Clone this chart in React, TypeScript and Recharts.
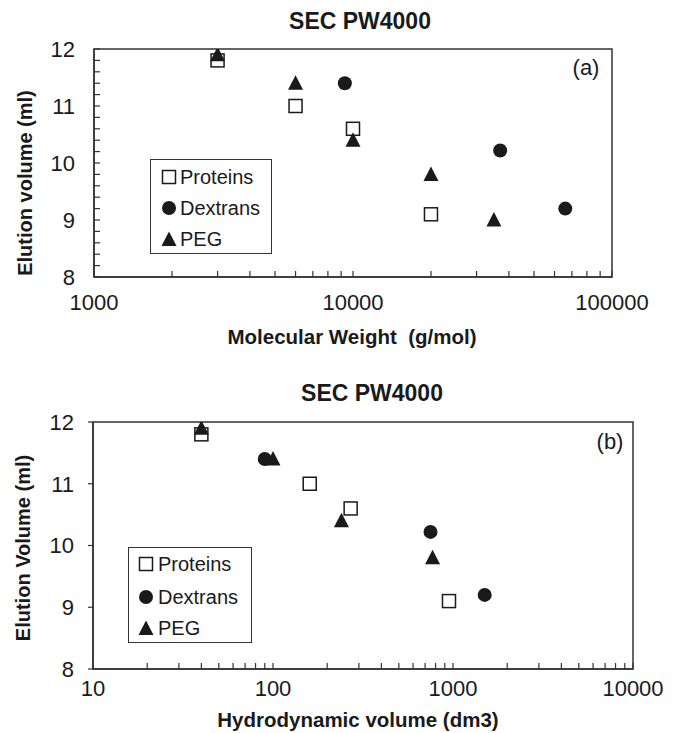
import React from "react";
import { ScatterChart, Scatter, XAxis, YAxis, ReferenceArea } from "recharts";

// ---------- data: panel (a) ----------
const mwProteins = [3000, 6000, 10000, 20000];
const elProteinsA = [11.8, 11.0, 10.6, 9.1];
const mwDextrans = [9300, 37000, 66000];
const elDextransA = [11.4, 10.22, 9.2];
const mwPEG = [3000, 6000, 10000, 20000, 35000];
const elPEGA = [11.9, 11.4, 10.4, 9.8, 9.0];

// ---------- data: panel (b) ----------
const hvProteins = [40, 160, 270, 950];
const elProteinsB = [11.8, 11.0, 10.6, 9.1];
const hvDextrans = [90, 750, 1500];
const elDextransB = [11.4, 10.22, 9.2];
const hvPEG = [40, 100, 240, 770];
const elPEGB = [11.9, 11.4, 10.4, 9.8];

// ---------- ticks ----------
const xLabelsA = [1000, 10000, 100000];
const xMinorA = [1000, 2000, 3000, 4000, 5000, 6000, 7000, 8000, 9000, 10000, 20000, 30000, 40000, 50000, 60000, 70000, 80000, 90000, 100000];
const xLabelsB = [10, 100, 1000, 10000];
const xMinorB = [10, 20, 30, 40, 50, 60, 70, 80, 90, 100, 200, 300, 400, 500, 600, 700, 800, 900, 1000, 2000, 3000, 4000, 5000, 6000, 7000, 8000, 9000, 10000];
const yLabels = [8, 9, 10, 11, 12];
const yMinorA = [8, 8.2, 8.4, 8.6, 8.8, 9, 9.2, 9.4, 9.6, 9.8, 10, 10.2, 10.4, 10.6, 10.8, 11, 11.2, 11.4, 11.6, 11.8, 12];

const seriesNames = ["Proteins", "Dextrans", "PEG"];

const FONT = "'Liberation Sans', Arial, sans-serif";
const INK = "#1a1a1a";
const AXIS = "#333";
const TICK_FS = 22;

const zip = (xs: number[], ys: number[]) => xs.map((x, i) => ({ x, y: ys[i] }));

const SquareShape = (p: any) => (
  <rect x={p.cx - 6.5} y={p.cy - 6.5} width={13} height={13} fill="#fff" stroke={INK} strokeWidth={1.5} />
);
const CircleShape = (p: any) => <circle cx={p.cx} cy={p.cy} r={7} fill={INK} />;
const TriangleShape = (p: any) => (
  <polygon points={`${p.cx},${p.cy - 8} ${p.cx - 7.5},${p.cy + 6.5} ${p.cx + 7.5},${p.cy + 6.5}`} fill={INK} />
);

const makeXTick = (labels: number[]) => (p: any) => {
  const v = p.payload?.value;
  if (!labels.includes(v)) return <g />;
  return (
    <text x={p.x} y={p.y} dy="0.71em" textAnchor="middle" fontFamily={FONT} fontSize={TICK_FS} fill={INK}>
      {String(v)}
    </text>
  );
};
const makeYTick = (labels: number[]) => (p: any) => {
  const v = p.payload?.value;
  if (!labels.some((l) => Math.abs(l - v) < 1e-9)) return <g />;
  return (
    <text x={p.x} y={p.y} dy="0.355em" textAnchor="end" fontFamily={FONT} fontSize={TICK_FS} fill={INK}>
      {String(Math.round(v))}
    </text>
  );
};

const LegendMarker = ({ kind }: { kind: number }) => (
  <svg width={18} height={18} style={{ display: "block" }}>
    {kind === 0 && <rect x={2.5} y={2.5} width={13} height={13} fill="#fff" stroke={INK} strokeWidth={1.5} />}
    {kind === 1 && <circle cx={9} cy={9} r={7} fill={INK} />}
    {kind === 2 && <polygon points="9,1.5 1.5,16 16.5,16" fill={INK} />}
  </svg>
);

const LegendBox = ({ left, top, width, height, rowYs, markerX, textX }: any) => (
  <div
    style={{
      position: "absolute",
      left,
      top,
      width,
      height,
      boxSizing: "border-box",
      border: `1.5px solid ${AXIS}`,
      background: "#fff",
    }}
  >
    {seriesNames.map((n, i) => (
      <div key={n}>
        <div style={{ position: "absolute", left: markerX - left - 9, top: rowYs[i] - top - 9 }}>
          <LegendMarker kind={i} />
        </div>
        <div
          style={{
            position: "absolute",
            left: textX - left,
            top: rowYs[i] - top - 12,
            fontFamily: FONT,
            fontSize: 20,
            lineHeight: "24px",
            color: INK,
            whiteSpace: "nowrap",
          }}
        >
          {n}
        </div>
      </div>
    ))}
  </div>
);

const Txt = ({ x, y, size, bold, children, rotate }: any) => (
  <div
    style={{
      position: "absolute",
      left: x,
      top: y,
      transform: `translate(-50%, -50%)${rotate ? " rotate(-90deg)" : ""}`,
      fontFamily: FONT,
      fontSize: size,
      fontWeight: bold ? 700 : 400,
      color: INK,
      whiteSpace: "pre",
      lineHeight: 1,
    }}
  >
    {children}
  </div>
);

export default function App() {
  return (
    <div style={{ position: "absolute", left: 0, top: 0, width: 683, height: 733, background: "#fff" }}>
      {/* Panel (a) */}
      <div style={{ position: "absolute", left: 0, top: 0 }}>
        <ScatterChart width={683} height={365} margin={{ top: 49, right: 71, left: 34, bottom: 58 }}>
          <XAxis
            xAxisId="main"
            dataKey="x"
            type="number"
            scale="log"
            domain={[1000, 100000]}
            allowDataOverflow
            ticks={xMinorA}
            tick={makeXTick(xLabelsA)}
            tickLine={{ stroke: AXIS, strokeWidth: 1.2 }}
            tickSize={-6}
            tickMargin={23}
            axisLine={{ stroke: AXIS, strokeWidth: 1.5 }}
            height={30}
            interval={0}
          />
          <YAxis
            yAxisId="main"
            dataKey="y"
            type="number"
            domain={[8, 12]}
            allowDataOverflow
            ticks={yMinorA}
            tick={makeYTick(yLabels)}
            tickLine={{ stroke: AXIS, strokeWidth: 1.2 }}
            tickSize={-6}
            tickMargin={25}
            axisLine={{ stroke: AXIS, strokeWidth: 1.5 }}
            width={60}
            interval={0}
          />
          <ReferenceArea
            xAxisId="main"
            yAxisId="main"
            x1={1000}
            x2={100000}
            y1={8}
            y2={12}
            fill="none"
            stroke={AXIS}
            strokeWidth={1.5}
            fillOpacity={0}
          />
          <Scatter xAxisId="main" yAxisId="main" name="Proteins" data={zip(mwProteins, elProteinsA)} shape={SquareShape} isAnimationActive={false} />
          <Scatter xAxisId="main" yAxisId="main" name="Dextrans" data={zip(mwDextrans, elDextransA)} shape={CircleShape} isAnimationActive={false} />
          <Scatter xAxisId="main" yAxisId="main" name="PEG" data={zip(mwPEG, elPEGA)} shape={TriangleShape} isAnimationActive={false} />
        </ScatterChart>
      </div>

      {/* Panel (b) */}
      <div style={{ position: "absolute", left: 0, top: 365 }}>
        <ScatterChart width={683} height={368} margin={{ top: 57, right: 50, left: 33, bottom: 34 }}>
          <XAxis
            xAxisId="main"
            dataKey="x"
            type="number"
            scale="log"
            domain={[10, 10000]}
            allowDataOverflow
            ticks={xMinorB}
            tick={makeXTick(xLabelsB)}
            tickLine={{ stroke: AXIS, strokeWidth: 1.2 }}
            tickSize={-6}
            tickMargin={17}
            axisLine={{ stroke: AXIS, strokeWidth: 1.5 }}
            height={30}
            interval={0}
          />
          <YAxis
            yAxisId="main"
            dataKey="y"
            type="number"
            domain={[8, 12]}
            allowDataOverflow
            ticks={yLabels}
            tick={makeYTick(yLabels)}
            tickLine={{ stroke: AXIS, strokeWidth: 1.2 }}
            tickSize={5}
            tickMargin={14}
            axisLine={{ stroke: AXIS, strokeWidth: 1.5 }}
            width={60}
            interval={0}
          />
          <ReferenceArea
            xAxisId="main"
            yAxisId="main"
            x1={10}
            x2={10000}
            y1={8}
            y2={12}
            fill="none"
            stroke={AXIS}
            strokeWidth={1.5}
            fillOpacity={0}
          />
          <Scatter xAxisId="main" yAxisId="main" name="Proteins" data={zip(hvProteins, elProteinsB)} shape={SquareShape} isAnimationActive={false} />
          <Scatter xAxisId="main" yAxisId="main" name="Dextrans" data={zip(hvDextrans, elDextransB)} shape={CircleShape} isAnimationActive={false} />
          <Scatter xAxisId="main" yAxisId="main" name="PEG" data={zip(hvPEG, elPEGB)} shape={TriangleShape} isAnimationActive={false} />
        </ScatterChart>
      </div>

      {/* Titles and labels */}
      <Txt x={360} y={21} size={23} bold>SEC PW4000</Txt>
      <Txt x={352} y={337} size={20.5} bold>{"Molecular Weight  (g/mol)"}</Txt>
      <Txt x={25} y={183} size={20} bold rotate>Elution volume (ml)</Txt>
      <Txt x={586} y={68} size={22}>(a)</Txt>
      <LegendBox left={150} top={159} width={122} height={95} rowYs={[176, 207, 238]} markerX={168} textX={179} />

      <Txt x={372} y={393} size={23} bold>SEC PW4000</Txt>
      <Txt x={358} y={720} size={20.5} bold>Hydrodynamic volume (dm3)</Txt>
      <Txt x={23} y={548} size={20} bold rotate>Elution Volume (ml)</Txt>
      <Txt x={610} y={442} size={22}>(b)</Txt>
      <LegendBox left={128} top={547} width={124} height={96} rowYs={[563, 596, 627]} markerX={145} textX={157} />
    </div>
  );
}
